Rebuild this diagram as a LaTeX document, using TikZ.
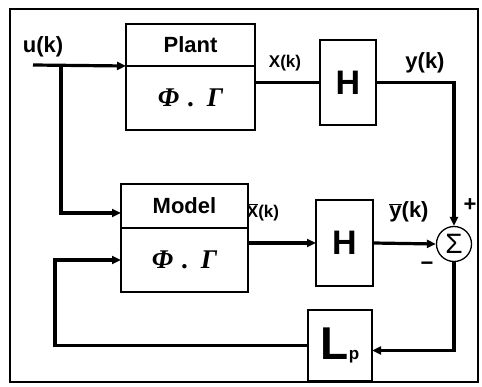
\documentclass[tikz,border=0pt]{standalone}
\usepackage{fontspec}
\setmainfont{Liberation Sans}
\newfontfamily\greekfont{Liberation Serif}
\usetikzlibrary{arrows.meta,positioning}
\tikzset{
  blockbox/.style={draw,rectangle,line width=1.3pt,outer sep=0pt,inner sep=0pt},
  sumnode/.style={draw,circle,line width=1.3pt,minimum size=35pt,inner sep=0pt},
  sig/.style={line width=3.2pt,-{Triangle[length=9pt,width=8pt]}},
  lbl/.style={inner sep=0pt,font=\bfseries\fontsize{22}{26}\selectfont},
  smalllbl/.style={inner sep=0pt,font=\bfseries\fontsize{17}{20}\selectfont},
}
\newcommand{\phigamma}{{\greekfont\bfseries\itshape\fontsize{27}{30}\selectfont
  Φ\hspace{9pt}.\hspace{12pt}Γ}}
\newcommand{\barred}[1]{\(\overline{\hbox{#1}}\)}

\begin{document}
\begin{tikzpicture}[x=1pt,y=-1pt,line width=1.3pt]
  \useasboundingbox (0,0) rectangle (482,387);
  \draw (10,9) rectangle (478,382);

  % plant and model, each with a title part and a matrix part
  \node[blockbox,minimum width=129pt,minimum height=42pt,lbl] (plantT) at (190.5,45) {Plant};
  \node[blockbox,minimum width=129pt,minimum height=64pt,below=0pt of plantT] (plantB) {\phigamma};
  \node[blockbox,minimum width=127pt,minimum height=44pt,lbl] (modelT) at (184.5,206) {Model};
  \node[blockbox,minimum width=127pt,minimum height=64pt,below=0pt of modelT] (modelB) {\phigamma};

  \node[blockbox,minimum width=56pt,minimum height=85pt,font=\bfseries\fontsize{34}{34}\selectfont] (H1) at (348,82.5) {H};
  \node[blockbox,minimum width=57pt,minimum height=86pt,font=\bfseries\fontsize{34}{34}\selectfont] (H2) at (344.5,243) {H};
  \node[blockbox,minimum width=64pt,minimum height=71pt] (Lp) at (340,345.5)
    {{\bfseries\fontsize{46}{46}\selectfont L}{\bfseries\fontsize{17}{17}\selectfont p}};
  \node[sumnode,font=\fontsize{28}{28}\selectfont] (sum) at (454,244) {Σ};

  \coordinate (uin) at (33,65);
  \coordinate (ubr) at (61,65);
  \coordinate (fbk) at (55,0);

  \draw[sig] (uin) -- (plantT.south west);
  \draw[sig] (ubr) |- ([yshift=-7pt]modelT.west);
  \draw[line width=2.2pt] (H1.west -| plantB.east) -- (H1.west);
  \draw[sig] (H1.east) -| (sum.north);
  \draw[sig] (H2.west -| modelB.east) -- (H2.west);
  \draw[sig] (H2.east) -- (sum.west);
  \draw[sig] (sum.south) |- ([yshift=-5pt]Lp.east);
  \draw[sig] (Lp.west) -| (fbk |- modelB.west) -- (modelB.west);

  \node[lbl] (ulbl) at (43,47) {u(k)};
  \node[smalllbl] (xlbl) at (285,63) {X(k)};
  \node[lbl] (ylbl) at (425,63) {y(k)};
  \node[smalllbl] (xblbl) at (263,212) {\barred{X}(k)};
  \node[lbl] (yblbl) at (409,212) {\barred{y}(k)};
  \node[lbl] (plus) at (470,205) {+};
  \node[lbl] (minus) at (427,266) {−};
\end{tikzpicture}
\end{document}
